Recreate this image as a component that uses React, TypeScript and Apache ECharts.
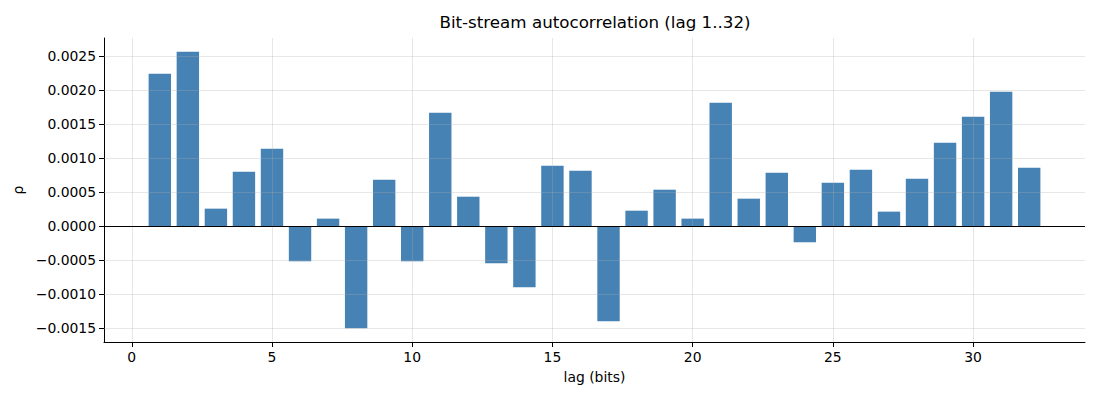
import React, { useEffect, useRef } from "react";
import * as echarts from "echarts";

const lags: number[] = Array.from({ length: 32 }, (_, i) => i + 1);
const rho: number[] = [
  0.00224, 0.002564, 0.000255, 0.000799, 0.001137, -0.00052, 0.000108, -0.001505,
  0.000681, -0.00052, 0.001667, 0.000431, -0.000549, -0.000902, 0.000887, 0.000814,
  -0.001402, 0.000225, 0.000534, 0.000108, 0.001814, 0.000402, 0.000784, -0.00024,
  0.000637, 0.000828, 0.000211, 0.000696, 0.001225, 0.001608, 0.001975, 0.000858,
];
const xTicks: number[] = [0, 5, 10, 15, 20, 25, 30];
const yTicks: number[] = [-0.0015, -0.001, -0.0005, 0, 0.0005, 0.001, 0.0015, 0.002, 0.0025];

const FONT = "DejaVu Sans";
const X_MIN = -0.99;
const X_MAX = 33.99;
const Y_MIN = -0.001708;
const Y_MAX = 0.002767;

export default function App() {
  const ref = useRef<HTMLDivElement>(null);
  useEffect(() => {
    if (!ref.current) return;
    const chart = echarts.init(ref.current, null, { renderer: "svg" });
    const gridColor = "rgba(176,176,176,0.3)";
    const vData: any[] = xTicks.map((v) => [{ coord: [v, Y_MIN] }, { coord: [v, Y_MAX] }]);
    const hData: any[] = yTicks
      .filter((v) => v !== 0)
      .map((v) => [{ coord: [X_MIN, v] }, { coord: [X_MAX, v] }]);
    chart.setOption({
      animation: false,
      backgroundColor: "#fff",
      textStyle: { fontFamily: FONT },
      title: {
        text: "Bit-stream autocorrelation (lag 1..32)",
        left: 590,
        top: 8,
        textAlign: "center",
        textStyle: { fontFamily: FONT, fontSize: 16.7, fontWeight: "normal", color: "#000" },
      },
      grid: { left: 104, right: 15, top: 38, bottom: 58, containLabel: false },
      xAxis: {
        type: "value",
        min: X_MIN,
        max: X_MAX,
        name: "lag (bits)",
        nameLocation: "middle",
        nameGap: 28,
        nameTextStyle: { fontFamily: FONT, fontSize: 13.9, color: "#000" },
        axisLine: { show: true, onZero: false, lineStyle: { color: "#000", width: 1 } },
        axisTick: { show: true, length: 5, inside: false, lineStyle: { color: "#000", width: 1 }, customValues: xTicks },
        axisLabel: {
          show: true,
          margin: 8,
          fontFamily: FONT,
          fontSize: 13.9,
          color: "#000",
          customValues: xTicks,
          formatter: (v: number) => String(v),
        },
        splitLine: { show: false },
      },
      yAxis: {
        type: "value",
        min: Y_MIN,
        max: Y_MAX,
        name: "ρ",
        nameLocation: "middle",
        nameGap: 74,
        nameRotate: 90,
        nameTextStyle: { fontFamily: FONT, fontSize: 13.9, color: "#000" },
        axisLine: { show: true, onZero: false, lineStyle: { color: "#000", width: 1 } },
        axisTick: { show: true, length: 5, inside: false, lineStyle: { color: "#000", width: 1 }, customValues: yTicks },
        axisLabel: {
          show: true,
          margin: 8,
          fontFamily: FONT,
          fontSize: 13.9,
          color: "#000",
          customValues: yTicks,
          formatter: (v: number) => (v < 0 ? "\u2212" : "") + Math.abs(v).toFixed(4),
        },
        splitLine: { show: false },
      },
      series: [
        {
          type: "bar",
          data: lags.map((l, i) => [l, rho[i]]),
          barWidth: 22.4,
          itemStyle: { color: "#4682b4" },
          z: 2,
          markLine: {
            silent: true,
            symbol: "none",
            label: { show: false },
            animation: false,
            lineStyle: { color: gridColor, width: 1, type: "solid" },
            data: [...vData, ...hData],
          },
        },
        {
          type: "line",
          data: [],
          z: 4,
          markLine: {
            silent: true,
            symbol: "none",
            label: { show: false },
            animation: false,
            lineStyle: { color: "#000", width: 1, type: "solid" },
            data: [[{ coord: [X_MIN, 0] }, { coord: [X_MAX, 0] }]],
          },
        },
      ],
    });
    return () => chart.dispose();
  }, []);
  return (
    <div
      ref={ref}
      style={{ position: "absolute", left: 0, top: 0, width: 1100, height: 400 }}
    />
  );
}
